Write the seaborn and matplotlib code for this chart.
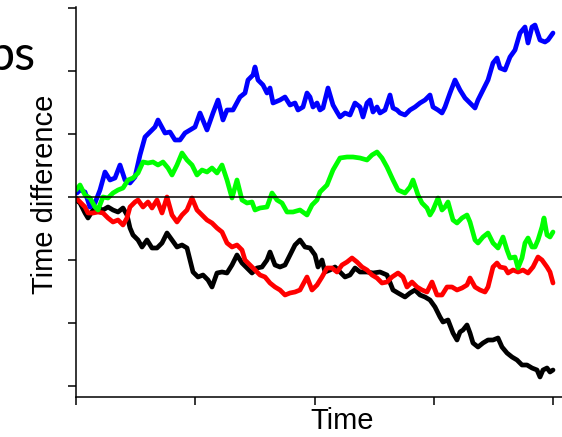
import pandas as pd
import matplotlib
matplotlib.use("Agg")
import matplotlib.pyplot as plt
import seaborn as sns

# time (steps) and time difference readings for each of the four walks
blue_t = [1, 4, 9, 14, 19, 24, 29, 34, 39, 44, 49, 54, 59, 64, 69, 74, 79, 82, 89, 94,
          99, 104, 109, 114, 119, 124, 131, 137, 142, 147, 151, 157, 164, 169, 172, 177, 179, 182, 187, 191,
          194, 197, 204, 209, 214, 219, 222, 227, 231, 234, 237, 241, 244, 247, 252, 257, 261, 264, 269, 274,
          279, 284, 287, 291, 294, 297, 301, 304, 309, 314, 317, 321, 324, 329, 334, 339, 344, 349, 354, 357,
          362, 366, 369, 374, 379, 384, 389, 394, 399, 402, 407, 412, 417, 421, 424, 429, 434, 439, 444, 449,
          452, 456, 459, 464, 469, 472, 477]
blue_d = [4, 7, 5, -10, -6, 7, 25, 17, 19, 32, 17, 14, 20, 42, 60, 65, 70, 77, 64, 65,
          57, 57, 64, 67, 70, 84, 67, 84, 97, 77, 87, 87, 100, 104, 117, 122, 130, 117, 112, 104,
          109, 94, 97, 100, 92, 94, 87, 90, 104, 100, 90, 94, 87, 89, 109, 92, 85, 80, 84, 82,
          94, 90, 80, 94, 97, 85, 90, 84, 87, 102, 89, 87, 84, 82, 87, 90, 94, 97, 102, 90,
          87, 84, 90, 104, 117, 107, 99, 94, 89, 97, 107, 117, 134, 139, 129, 127, 140, 147, 164, 170,
          154, 170, 172, 157, 155, 157, 164]

green_t = [0, 4, 9, 14, 19, 22, 27, 32, 37, 42, 47, 52, 57, 62, 67, 72, 77, 82, 87, 92,
           96, 101, 106, 111, 116, 121, 126, 131, 136, 141, 146, 151, 156, 161, 166, 171, 176, 179, 184, 191,
           196, 201, 206, 211, 217, 224, 231, 236, 241, 244, 251, 257, 264, 271, 277, 284, 291, 296, 301, 306,
           311, 317, 322, 329, 334, 337, 342, 346, 351, 354, 357, 362, 366, 369, 372, 377, 381, 386, 391, 394,
           399, 402, 407, 412, 417, 422, 427, 431, 434, 439, 442, 446, 449, 452, 456, 459, 462, 466, 468, 471,
           474, 477]
green_d = [7, 12, 2, -1, -10, -13, 0, -1, 4, 7, 9, 17, 19, 24, 35, 34, 35, 32, 35, 29,
           22, 32, 44, 37, 32, 22, 27, 25, 29, 24, 32, 17, -1, 17, -3, -6, -5, -13, -11, -10,
           4, -3, -6, -15, -15, -13, -18, -8, -3, 5, 12, 27, 39, 40, 40, 39, 37, 42, 45, 39,
           30, 17, 7, 4, 10, 17, 2, -6, -11, -18, -13, -1, -13, -10, -5, -23, -26, -21, -18, -25,
           -43, -46, -40, -36, -46, -51, -40, -53, -61, -60, -71, -61, -46, -41, -50, -50, -43, -30, -21, -38,
           -40, -35]

red_t = [0, 4, 9, 12, 17, 22, 27, 32, 37, 42, 47, 51, 54, 59, 62, 67, 72, 76, 81, 86,
         91, 96, 101, 106, 111, 116, 121, 126, 131, 136, 141, 146, 151, 156, 161, 166, 169, 174, 179, 184,
         189, 194, 199, 204, 209, 214, 219, 224, 231, 236, 241, 246, 251, 256, 261, 266, 271, 276, 281, 286,
         291, 296, 301, 306, 311, 316, 322, 327, 331, 336, 341, 346, 351, 356, 361, 366, 371, 376, 381, 386,
         391, 394, 399, 404, 409, 412, 417, 421, 424, 429, 432, 437, 442, 447, 452, 457, 462, 466, 471, 474,
         477]
red_d = [-1, -5, -10, -16, -16, -15, -16, -21, -25, -23, -28, -21, -10, -5, -3, -10, -5, -11, -3, -16,
         0, -18, -25, -18, -13, -1, -13, -18, -23, -26, -31, -35, -46, -50, -48, -53, -63, -68, -73, -78,
         -80, -86, -90, -93, -98, -96, -95, -93, -80, -93, -88, -80, -71, -71, -75, -68, -65, -61, -65, -70,
         -73, -78, -81, -86, -85, -80, -76, -80, -90, -85, -90, -93, -95, -85, -98, -98, -90, -90, -93, -91,
         -88, -81, -90, -93, -95, -90, -70, -66, -70, -71, -76, -73, -75, -73, -76, -70, -60, -63, -70, -75,
         -86]

black_t = [0, 4, 9, 12, 17, 22, 27, 32, 37, 42, 47, 51, 54, 57, 62, 66, 71, 76, 81, 86,
           91, 96, 101, 106, 111, 114, 117, 122, 127, 132, 136, 141, 146, 151, 156, 161, 166, 171, 176, 181,
           186, 191, 194, 199, 204, 209, 214, 219, 224, 229, 234, 239, 242, 246, 249, 254, 259, 264, 269, 274,
           279, 284, 291, 297, 304, 311, 317, 322, 329, 334, 339, 344, 349, 354, 359, 364, 367, 372, 377, 381,
           384, 387, 391, 394, 397, 402, 407, 412, 417, 422, 426, 431, 436, 441, 446, 451, 456, 461, 464, 467,
           471, 474, 477]
black_d = [-3, -6, -16, -21, -13, -11, -13, -10, -13, -15, -11, -18, -31, -38, -43, -50, -43, -51, -51, -46,
           -36, -43, -50, -48, -51, -63, -75, -80, -78, -83, -90, -76, -75, -76, -68, -58, -66, -71, -76, -71,
           -70, -63, -55, -68, -70, -68, -58, -48, -43, -50, -51, -58, -70, -63, -75, -73, -70, -75, -80, -78,
           -71, -75, -75, -76, -75, -78, -93, -96, -100, -96, -93, -98, -100, -103, -110, -120, -125, -123, -136, -143,
           -135, -133, -128, -136, -146, -150, -146, -143, -143, -141, -150, -156, -160, -163, -168, -168, -171, -173, -180, -173,
           -171, -175, -173]

walks = [("black", black_t, black_d), ("#ff0000", red_t, red_d),
         ("#0000ff", blue_t, blue_d), ("#00ff00", green_t, green_d)]

x_ticks = [0, 119.25, 238.5, 357.75, 477]
y_ticks = [-189, -126, -63, 0, 63, 126, 189]

sns.set_theme(style="ticks")
plt.rcParams['font.family'] = ['Liberation Sans', 'DejaVu Sans']

fig = plt.figure(figsize=(5.62, 4.37), dpi=100)
ax = fig.add_axes([76 / 562, 40 / 437, 486 / 562, 390 / 437])

for color, t, d in walks:
    df = pd.DataFrame({"Time": t, "diff": d})
    sns.lineplot(data=df, x="Time", y="diff", color=color, lw=3.4, ax=ax,
                 estimator=None, sort=False)

ax.axhline(0, color="black", lw=1.1, zorder=5)

ax.set_xlim(0, 486)
ax.set_ylim(-200, 190)
ax.set_xticks(x_ticks)
ax.set_yticks(y_ticks)
ax.set_xticklabels([])
ax.set_yticklabels([])
ax.tick_params(axis="both", direction="out", length=5.5, width=1.1, color="black")
for side in ["top", "right"]:
    ax.spines[side].set_visible(False)
for side in ["left", "bottom"]:
    ax.spines[side].set_linewidth(1.1)
    ax.spines[side].set_color("black")

ax.set_xlabel("Time", fontsize=21, color="black")
ax.set_ylabel("Time difference", fontsize=21, color="black")
ax.xaxis.set_label_coords(266 / 486, -0.025)
ax.yaxis.set_label_coords(-0.035, 0.52)

fig.text(36 / 562, 1 - 70 / 437, "ps", ha="right", va="baseline", fontsize=35,
         color="black", family=["Lato", "DejaVu Sans"])

fig.savefig("out.png", dpi=100)
